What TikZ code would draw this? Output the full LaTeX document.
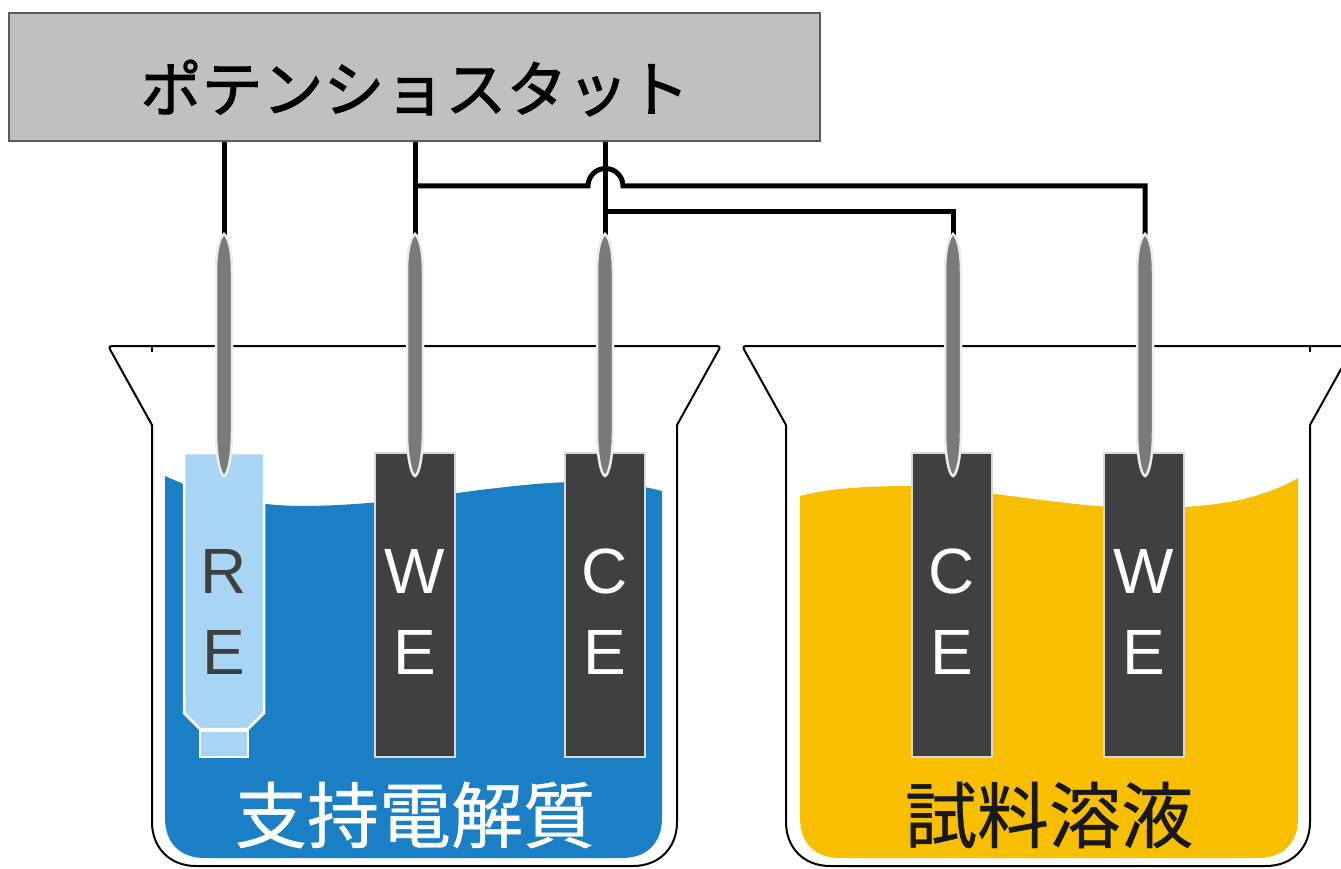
\documentclass[tikz,border=0pt]{standalone}
\usepackage{fontspec}
\newfontfamily\jpfont[FakeBold=0.6]{Noto Sans CJK JP}
\newfontfamily\jpheavy[FakeBold=1.6]{Noto Sans CJK JP}
\newfontfamily\latfont{Liberation Sans}
\definecolor{boxgray}{HTML}{C0C0C0}
\definecolor{boxedge}{HTML}{5A5A5A}
\definecolor{electrolyte}{HTML}{1A7FC4}
\definecolor{refblue}{HTML}{A9D5F5}
\definecolor{sample}{HTML}{F8BE00}
\definecolor{platecol}{HTML}{404040}
\definecolor{rodgray}{HTML}{7A7A7A}
\definecolor{rodedge}{HTML}{EDEDED}
\begin{document}
\begin{tikzpicture}[x=1pt,y=-1pt,
  wire/.style={line width=5pt, line join=miter},
  beaker/.style={line width=2pt, line join=round},
  plate/.style={rectangle, fill=platecol, draw=white!85!black, line width=2.5pt,
    minimum width=80pt, minimum height=304pt, inner sep=0pt},
  platelbl/.style={font=\latfont\fontsize{64}{64}\selectfont, text=white, inner sep=0pt},
  rod/.style={fill=rodgray, draw=rodedge, line width=2.5pt},
  jplbl/.style={font=\jpfont\fontsize{72}{72}\selectfont, inner sep=0pt},
]
\useasboundingbox (0,0) rectangle (1341,869);
\clip (0,0) rectangle (1341,869);

% beaker outlines
\draw[beaker] (152,425) -- (112,353) .. controls (108,346) .. (116,346) -- (713,346)
  .. controls (721,346) .. (717,353) -- (677,425) -- (677,822)
  .. controls (677,848) and (659,866) .. (633,866) -- (196,866)
  .. controls (170,866) and (152,848) .. (152,822) -- cycle;
\draw[beaker] (152,346) -- (152,352);
\draw[beaker] (786,425) -- (746,353) .. controls (742,346) .. (750,346) -- (1346,346)
  .. controls (1354,346) .. (1350,353) -- (1310,425) -- (1310,822)
  .. controls (1310,848) and (1292,866) .. (1266,866) -- (830,866)
  .. controls (804,866) and (786,848) .. (786,822) -- cycle;
\draw[beaker] (1310,346) -- (1310,352);

% liquids
\fill[electrolyte] (165,476) .. controls (200,492) and (240,505) .. (300,506)
  .. controls (360,506) and (420,498) .. (480,490)
  .. controls (530,484) and (560,481) .. (600,482)
  .. controls (630,483) and (650,488) .. (662,491) -- (662,818)
  .. controls (662,842) and (648,858) .. (622,858) -- (205,858)
  .. controls (179,858) and (165,842) .. (165,818) -- cycle;
\fill[sample] (800,496) .. controls (830,488) and (870,486) .. (911,486)
  .. controls (940,486) and (960,489) .. (995,494)
  .. controls (1040,500) and (1080,505) .. (1110,507)
  .. controls (1150,510) and (1200,508) .. (1240,500)
  .. controls (1265,494) and (1285,486) .. (1298,478) -- (1298,818)
  .. controls (1298,842) and (1284,858) .. (1258,858) -- (840,858)
  .. controls (814,858) and (800,842) .. (800,818) -- cycle;

% reference electrode body and tip
\draw[fill=refblue, draw=white, line width=2.5pt] (184,453) -- (264,453) -- (264,713)
  -- (248,729) -- (200,729) -- (184,713) -- cycle;
\draw[fill=refblue, draw=white, line width=2.5pt] (200,731) rectangle (248,757);

% working and counter electrode plates
\node[plate] (we1) at (415,605) {};
\node[plate] (ce1) at (605,605) {};
\node[plate] (ce2) at (952,605) {};
\node[plate] (we2) at (1144,605) {};

% plate letters
\node[platelbl, text=platecol] (reR) at (224,571) {R};
\node[platelbl, text=platecol] (reE) at (224,652) {E};
\node[platelbl] (we1W) at (415,571) {W};
\node[platelbl] (we1E) at (415,652) {E};
\node[platelbl] (ce1C) at (605,571) {C};
\node[platelbl] (ce1E) at (605,652) {E};
\node[platelbl] (ce2C) at (952,571) {C};
\node[platelbl] (ce2E) at (952,652) {E};
\node[platelbl] (we2W) at (1144,571) {W};
\node[platelbl] (we2E) at (1144,652) {E};

% solution names
\node[jplbl, text=white] (elecname) at (415,815) {支持電解質};
\node[jplbl, text=black!90] (samplename) at (1049,815) {試料溶液};

% potentiostat
\node[rectangle, fill=boxgray, draw=boxedge, line width=2pt, minimum width=811pt,
  minimum height=128pt, inner sep=0pt] (pot) at (414.5,77) {};
\node[font=\jpheavy\fontsize{61}{61}\selectfont, inner sep=0pt] (potlbl) at (415,88) {ポテンショスタット};

% lead ends on top of the electrode rods
\coordinate (retop) at (224,240);
\coordinate (we1top) at (415,240);
\coordinate (ce1top) at (605,240);
\coordinate (ce2top) at (953,240);
\coordinate (we2top) at (1145,240);
\coordinate (hop) at (605.5,186);
\coordinate (cebus) at (605,212);

% wiring
\draw[wire] (pot.south -| retop) -- (retop);
\draw[wire] (pot.south -| we1top) -- (we1top);
\draw[wire] (pot.south -| ce1top) -- (ce1top);
\draw[wire] (we1top |- hop) -- ([xshift=-17.5pt]hop)
  arc[start angle=180, end angle=0, radius=17.5pt] -- (we2top |- hop) -- (we2top);
\draw[wire] (cebus) -- (ce2top |- cebus) -- (ce2top);

% electrode rods
\foreach \x in {224,415,605,953,1145}{
  \draw[rod] (\x,234) .. controls (\x+5,238) and (\x+8,252) .. (\x+8,272) -- (\x+8,432)
    .. controls (\x+8,456) and (\x+4,475) .. (\x,476)
    .. controls (\x-4,475) and (\x-8,456) .. (\x-8,432) -- (\x-8,272)
    .. controls (\x-8,252) and (\x-5,238) .. cycle;
}
\end{tikzpicture}
\end{document}
